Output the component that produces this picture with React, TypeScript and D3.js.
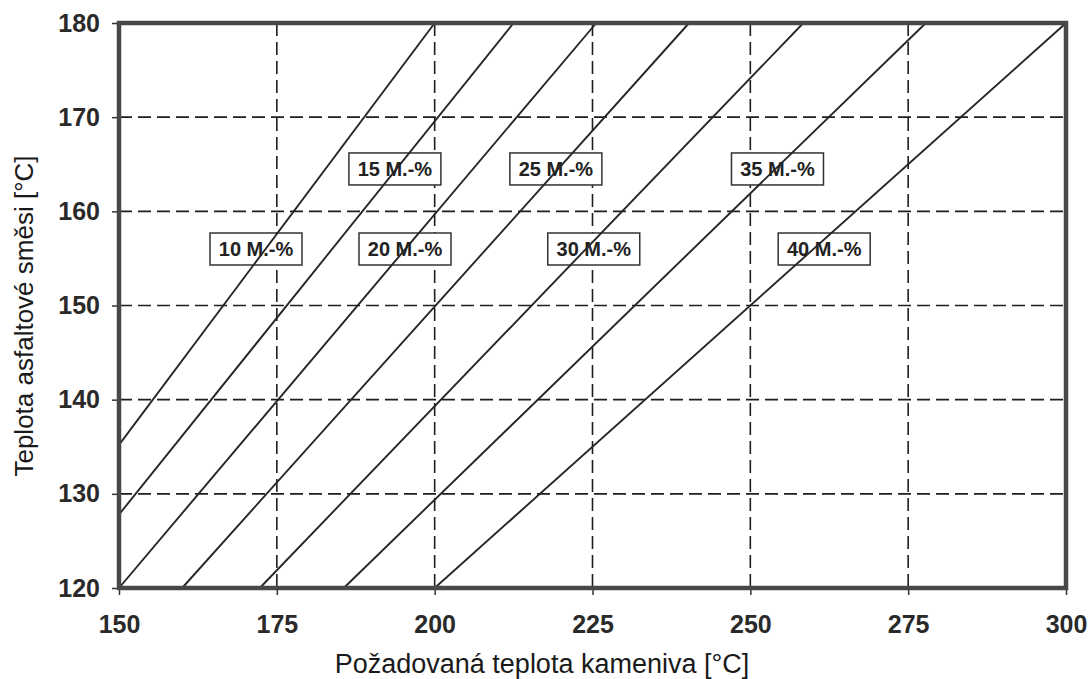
import React, { useEffect, useRef } from "react";
import * as d3 from "d3";

// mass share of bitumen / RAP curves
const shareLabels = ["10 M.-%", "15 M.-%", "20 M.-%", "25 M.-%", "30 M.-%", "35 M.-%", "40 M.-%"];
const lineStartStone = [150, 150, 150, 160, 172.3, 185.6, 200];
const lineStartMix = [135.2, 127.8, 120, 120, 120, 120, 120];
const lineEndStone = [200, 212.5, 225.6, 240.3, 258.4, 277.8, 300];
const lineEndMix = [180, 180, 180, 180, 180, 180, 180];

// where the boxed labels sit
const labelStone = [171.7, 193.7, 195.3, 219.2, 225.2, 254.3, 261.7];
const labelMix = [156, 164.5, 156, 164.5, 156, 164.5, 156];

const xTicks = [150, 175, 200, 225, 250, 275, 300];
const yTicks = [120, 130, 140, 150, 160, 170, 180];

const App = () => {
  const svgRef = useRef(null);
  const width = 1091;
  const height = 679;
  const margin = { top: 23, right: 25, bottom: 91, left: 119 };
  const font = "'Liberation Sans', Arial, sans-serif";

  useEffect(() => {
    const svg = d3.select(svgRef.current).attr("width", width).attr("height", height);
    svg.selectAll("*").remove();

    const x = d3.scaleLinear().domain([150, 300]).range([margin.left, width - margin.right]);
    const y = d3.scaleLinear().domain([120, 180]).range([height - margin.bottom, margin.top]);

    svg.append("rect").attr("width", width).attr("height", height).attr("fill", "#fff");

    // dashed grid
    const grid = svg.append("g").attr("stroke", "#1e1e1e").attr("stroke-width", 1.6).attr("stroke-dasharray", "13,6");
    grid
      .selectAll("line.v")
      .data(xTicks.slice(1, -1))
      .enter()
      .append("line")
      .attr("x1", (d) => x(d))
      .attr("x2", (d) => x(d))
      .attr("y1", y(180))
      .attr("y2", y(120));
    grid
      .selectAll("line.h")
      .data(yTicks.slice(1, -1))
      .enter()
      .append("line")
      .attr("x1", x(150))
      .attr("x2", x(300))
      .attr("y1", (d) => y(d))
      .attr("y2", (d) => y(d));

    // axes
    const xAxis = svg
      .append("g")
      .attr("transform", `translate(0,${y(120)})`)
      .call(d3.axisBottom(x).tickValues(xTicks).tickSize(7).tickSizeOuter(0).tickPadding(20));
    const yAxis = svg
      .append("g")
      .attr("transform", `translate(${x(150)},0)`)
      .call(d3.axisLeft(y).tickValues(yTicks).tickSize(7).tickSizeOuter(0).tickPadding(12));
    [xAxis, yAxis].forEach((a) => {
      a.select(".domain").remove();
      a.selectAll("line").attr("stroke", "#333").attr("stroke-width", 1.5);
      a.selectAll("text")
        .style("font-family", font)
        .style("font-size", "25px")
        .style("font-weight", "bold")
        .attr("fill", "#2a2a2a");
    });

    // boxed labels
    const labels = svg
      .append("g")
      .selectAll("g")
      .data(shareLabels)
      .enter()
      .append("g")
      .attr("transform", (d, i) => `translate(${x(labelStone[i])},${y(labelMix[i])})`);
    labels
      .append("rect")
      .attr("x", -46)
      .attr("y", -16)
      .attr("width", 92)
      .attr("height", 32)
      .attr("fill", "#fff")
      .attr("stroke", "#333")
      .attr("stroke-width", 1.5);
    labels
      .append("text")
      .attr("text-anchor", "middle")
      .attr("dy", "0.36em")
      .attr("fill", "#222")
      .style("font-family", font)
      .style("font-size", "20px")
      .style("font-weight", "bold")
      .text((d) => d);

    // mixture temperature lines
    svg
      .append("g")
      .selectAll("line")
      .data(shareLabels)
      .enter()
      .append("line")
      .attr("x1", (d, i) => x(lineStartStone[i]))
      .attr("y1", (d, i) => y(lineStartMix[i]))
      .attr("x2", (d, i) => x(lineEndStone[i]))
      .attr("y2", (d, i) => y(lineEndMix[i]))
      .attr("stroke", "#262626")
      .attr("stroke-width", 1.9);

    // frame
    svg
      .append("rect")
      .attr("x", x(150))
      .attr("y", y(180))
      .attr("width", x(300) - x(150))
      .attr("height", y(120) - y(180))
      .attr("fill", "none")
      .attr("stroke", "#484848")
      .attr("stroke-width", 4.5);

    // axis titles
    svg
      .append("text")
      .attr("x", 542)
      .attr("y", 673)
      .attr("text-anchor", "middle")
      .attr("fill", "#1a1a1a")
      .style("font-family", font)
      .style("font-size", "27px")
      .text("Požadovaná teplota kameniva [°C]");
    svg
      .append("text")
      .attr("transform", `translate(33,${316}) rotate(-90)`)
      .attr("text-anchor", "middle")
      .attr("fill", "#1a1a1a")
      .style("font-family", font)
      .style("font-size", "26px")
      .text("Teplota asfaltové směsi [°C]");
  }, []);

  return <svg ref={svgRef} style={{ position: "absolute", left: 0, top: 0 }}></svg>;
};

export default App;
